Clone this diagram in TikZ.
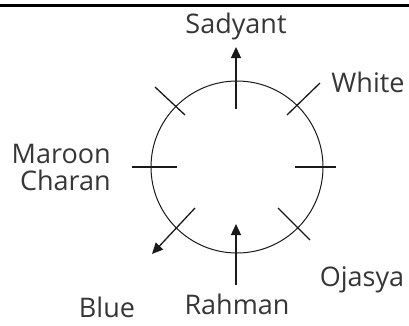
\documentclass[tikz,border=0pt]{standalone}
\usepackage{fontspec}
\setmainfont{Open Sans}
\usetikzlibrary{arrows.meta}
\definecolor{txt}{HTML}{363636}
\definecolor{ln}{HTML}{1A1A1A}
\begin{document}
\begin{tikzpicture}[x=1pt,y=-1pt,
  lbl/.style={font=\fontsize{27}{30}\selectfont, text=txt, inner sep=0pt},
  tick/.style={draw=ln, line width=1.3pt},
  arr/.style={draw=ln, line width=1.3pt, -{Triangle[length=11pt,width=10pt]}}]
\useasboundingbox (0,0) rectangle (409,325);
\fill[black] (0,3.5) rectangle (409,6.5);
\node[draw=ln, line width=1pt, circle, minimum size=172pt, inner sep=0pt] (c) at (237,167) {};
% arrows
\coordinate (tA) at (236,109); \coordinate (tB) at (236,47);
\draw[arr] (tA) -- (tB);
\coordinate (bA) at (236,285); \coordinate (bB) at (236,224);
\draw[arr] (bA) -- (bB);
\coordinate (llA) at (195,208); \coordinate (llB) at (152,254);
\draw[arr] (llA) -- (llB);
% ticks
\coordinate (lA) at (132,167); \coordinate (lB) at (177,167);
\draw[tick] (lA) -- (lB);
\coordinate (rA) at (295,167); \coordinate (rB) at (336,167);
\draw[tick] (rA) -- (rB);
\coordinate (ulA) at (155,87); \coordinate (ulB) at (185,115);
\draw[tick] (ulA) -- (ulB);
\coordinate (urA) at (320,83); \coordinate (urB) at (287,115);
\draw[tick] (urA) -- (urB);
\coordinate (lrA) at (278,208); \coordinate (lrB) at (310,240);
\draw[tick] (lrA) -- (lrB);
% labels
\node[lbl, anchor=base] (sad) at (236,33) {Sadyant};
\node[lbl, anchor=base] (whi) at (368,92) {White};
\node[lbl, anchor=base east] (mar) at (111,163) {Maroon};
\node[lbl, anchor=base east] (cha) at (111,190) {Charan};
\node[lbl, anchor=base] (oja) at (362,286) {Ojasya};
\node[lbl, anchor=base] (rah) at (237,314) {Rahman};
\node[lbl, anchor=base] (blu) at (107,317) {Blue};
\end{tikzpicture}
\end{document}
